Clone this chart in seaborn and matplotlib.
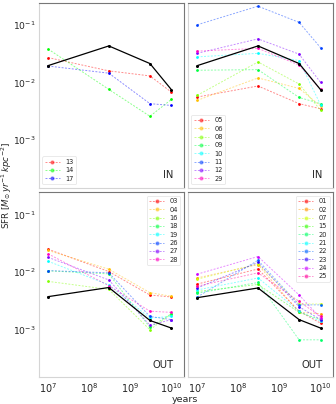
import colorsys
import numpy as np
import pandas as pd
import matplotlib
matplotlib.use("Agg")
import matplotlib.pyplot as plt
import matplotlib.ticker as mticker
from matplotlib.lines import Line2D
import seaborn as sns

sns.set_style("white")
plt.rcParams['font.family'] = ['DejaVu Sans']

ages = [1e7, 3e8, 3e9, 1e10]

# top-left (IN)
tl_labels = ["13", "14", "17"]
tl_vals = [
    [0.027, 0.0159, 0.013, 0.0068],
    [0.038, 0.0076, 0.0026, 0.0051],
    [0.0193, 0.0145, 0.0043, 0.0040],
]
tl_mean = [0.0196, 0.043, 0.0213, 0.0075]

# top-right (IN)
tr_labels = ["05", "06", "08", "09", "10", "11", "12", "29"]
tr_vals = [
    [0.0056, 0.0087, 0.0043, 0.0035],
    [0.0049, 0.012, 0.0079, 0.0039],
    [0.0060, 0.0227, 0.0094, 0.0033],
    [0.0163, 0.0167, 0.0055, 0.0043],
    [0.0278, 0.032, 0.024, 0.0041],
    [0.100, 0.21, 0.11, 0.040],
    [0.032, 0.057, 0.031, 0.010],
    [0.035, 0.039, 0.020, 0.0076],
]
tr_mean = [0.0196, 0.043, 0.0213, 0.0075]

# bottom-left (OUT)
bl_labels = ["03", "04", "16", "18", "19", "26", "27", "28"]
bl_vals = [
    [0.0249, 0.0102, 0.0040, 0.0037],
    [0.0237, 0.0112, 0.0044, 0.0038],
    [0.0069, 0.0050, 0.0010, 0.0019],
    [0.0105, 0.0093, 0.0011, 0.0019],
    [0.0154, 0.0060, 0.0016, 0.0017],
    [0.0106, 0.0097, 0.0017, 0.0015],
    [0.0180, 0.0073, 0.0012, 0.0015],
    [0.0207, 0.0058, 0.0021, 0.0020],
]
bl_mean = [0.00375, 0.0054, 0.00145, 0.00107]

# bottom-right (OUT)
br_labels = ["01", "02", "07", "15", "20", "21", "22", "23", "24", "25"]
br_vals = [
    [0.0062, 0.0113, 0.0021, 0.0013],
    [0.0079, 0.0135, 0.0020, 0.0019],
    [0.0075, 0.0138, 0.0028, 0.0028],
    [0.0046, 0.0061, 0.0020, 0.0015],
    [0.0043, 0.0066, 0.00067, 0.00067],
    [0.0049, 0.0079, 0.0021, 0.0014],
    [0.0037, 0.0160, 0.0027, 0.0027],
    [0.0053, 0.0147, 0.0025, 0.0015],
    [0.0092, 0.0186, 0.0040, 0.0016],
    [0.0057, 0.0097, 0.0031, 0.0017],
]
br_mean = [0.0036, 0.0053, 0.0015, 0.00107]

panels = [
    (tl_labels, tl_vals, tl_mean, "IN", "lower left"),
    (tr_labels, tr_vals, tr_mean, "IN", "lower left"),
    (bl_labels, bl_vals, bl_mean, "OUT", "upper right"),
    (br_labels, br_vals, br_mean, "OUT", "upper right"),
]

fig, axes = plt.subplots(2, 2, figsize=(3.36, 4.04), dpi=100, sharex=True, sharey=True)
fig.subplots_adjust(left=0.116, right=0.991, top=0.993, bottom=0.066, wspace=0.03, hspace=0.025)

dash = (0, (2, 1.5))
for ax, (labels, vals, mean, tag, loc) in zip(axes.flat, panels):
    n = len(labels)
    hs = []
    for i, (lab, v) in enumerate(zip(labels, vals)):
        col = colorsys.hsv_to_rgb(i / n, 1, 1)
        df = pd.DataFrame({"age": ages, "sfr": v})
        sns.lineplot(data=df, x="age", y="sfr", ax=ax, color=col, linestyle=dash,
                     lw=0.7, alpha=0.45, estimator=None, legend=False)
        ax.plot(ages, v, 'o', color=col, ms=2, mew=0, zorder=3)
        hs.append(Line2D([0], [0], color=col, lw=0.7, linestyle=dash, alpha=0.45,
                         marker='o', ms=2, markerfacecolor=col, markeredgecolor=col))
    dfm = pd.DataFrame({"age": ages, "sfr": mean})
    sns.lineplot(data=dfm, x="age", y="sfr", ax=ax, color="black", lw=0.9,
                 marker='o', ms=2.2, mew=0, estimator=None, zorder=4, legend=False)
    ax.set_xscale("log")
    ax.set_yscale("log")
    ax.set_xlim(6e6, 2e10)
    ax.set_ylim(1.5e-4, 0.24)
    ax.set_xlabel("")
    ax.set_ylabel("")
    ax.text(0.93, 0.04, tag, transform=ax.transAxes, ha="right", va="bottom", fontsize=7.2)
    leg = ax.legend(hs, labels, loc=loc, fontsize=4.8, handlelength=2.2, labelspacing=0.35,
                    borderpad=0.4, handletextpad=0.8, frameon=True, fancybox=True)
    leg.get_frame().set_edgecolor("#e0e0e0")
    leg.get_frame().set_linewidth(0.6)
    for side in ["left", "bottom"]:
        ax.spines[side].set_color("#d5d5d5")
    for side in ["top", "right"]:
        ax.spines[side].set_color("#777777")
    for sp in ax.spines.values():
        sp.set_linewidth(0.8)
    ax.tick_params(which="major", length=2, width=0.6, color="#999999", labelsize=7)
    ax.tick_params(axis="y", which="major", pad=0.6, labelsize=6.6)
    ax.tick_params(axis="x", which="major", pad=0.6)
    ax.tick_params(which="minor", length=1.2, width=0.4, color="#aaaaaa")
    ax.yaxis.set_minor_locator(mticker.LogLocator(base=10, subs=np.arange(2, 10), numticks=10))
    ax.yaxis.set_minor_formatter(mticker.NullFormatter())
    ax.xaxis.set_minor_locator(mticker.LogLocator(base=10, subs=np.arange(2, 10), numticks=10))
    ax.xaxis.set_minor_formatter(mticker.NullFormatter())

for ax in axes[:, 0]:
    ax.set_yticks([1e-1, 1e-2, 1e-3])
    ax.set_yticklabels([r"$10^{-1}$", r"$10^{-2}$", r"$10^{-3}$"])
for ax in axes[1, :]:
    ax.set_xticks([1e7, 1e8, 1e9, 1e10])
    ax.set_xticklabels([r"$10^{7}$", r"$10^{8}$", r"$10^{9}$", r"$10^{10}$"])
axes[0, 0].set_ylim(1.5e-4, 0.24)
axes[0, 0].set_xlim(6e6, 2e10)

fig.text(0.0, 0.54, r"SFR [$M_{\odot}\,yr^{-1}\,kpc^{-2}$]", rotation=90, va="center", ha="left", fontsize=6.3)
fig.text(0.55, 0.0, "years", ha="center", va="bottom", fontsize=6.8)

fig.savefig("out.png", dpi=100)
